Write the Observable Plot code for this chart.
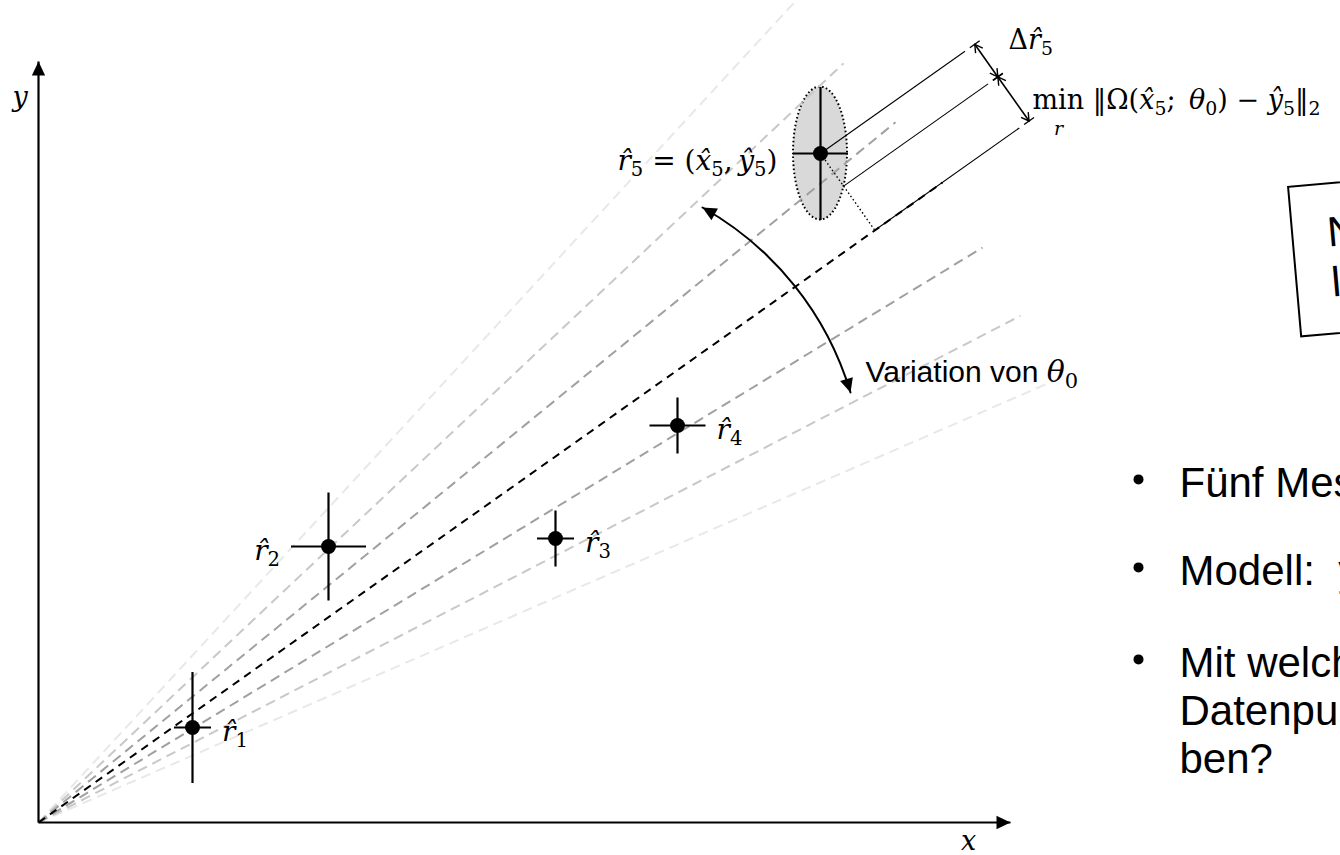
<!DOCTYPE html>
<html><head><meta charset="utf-8">
<script src="https://cdn.jsdelivr.net/npm/d3@7"></script>
<script src="https://cdn.jsdelivr.net/npm/@observablehq/plot@0.6"></script>
<style>
html,body{margin:0;padding:0;background:#fff;overflow:hidden;}
#wrap{position:relative;width:1340px;height:855px;overflow:hidden;background:#fff;}
#box{position:absolute;left:1287px;top:186px;width:330px;height:152px;border:2.5px solid #000;box-sizing:border-box;
 transform:rotate(-5deg);transform-origin:0 0;font:42px "Liberation Sans",Arial,sans-serif;line-height:50px;
 padding:23px 0 0 34px;white-space:nowrap;background:#fff;color:#000;}
</style></head><body><div id="wrap"></div>
<script>
// ---------------- data (1 unit = 100 px, origin of the axes = 0,0) ----------------
const pointNames = ["r\u03021", "r\u03022", "r\u03023", "r\u03024", "r\u03025"];
const pointX = [1.54, 2.90, 5.17, 6.39, 7.82];
const pointY = [0.95, 2.76, 2.84, 3.97, 6.69];
const errX = [0.185, 0.375, 0.185, 0.28, 0.275];
const errY = [0.555, 0.54, 0.28, 0.28, 0.665];
const pointLabels = ["$r\u0302_1$", "$r\u0302_2$", "$r\u0302_3$", "$r\u0302_4$"];
const labelSide = ["right", "left", "right", "right"];

// model lines y = m·x for several values of θ0
const fanSlopes = [1.085, 0.943, 0.817, 0.708, 0.609, 0.516, 0.435];
const fanEnds = [7.72, 8.05, 8.57, 9.04, 9.44, 9.82, 10.27];
const bestFit = 3;

// uncertainty ellipse of r̂5
const ellipseRx = [0.27];
const ellipseRy = [0.665];

// distances measured perpendicular to the best line: 0, Δr̂5, min distance
const dimOffsets = [0, 0.40, 0.94];

const axisEnds = [9.72, 7.61];
const axisNames = ["$x$", "$y$"];

const bulletItems = [
  "Fünf Messpunkte mit Messunsicherheit",
  "Modell:\u00a0\u00a0y\u0302 = Ω(x\u0302; θ₀)",
  "Mit welchem Parameter θ₀ lassen sich die\nDatenpunkte am besten beschrei-\nben?"
];
const boxLines = ["Nicht-", "lineares Problem"];

// ---------------- styles / layout ----------------
const SERIF = "'DejaVu Serif','Liberation Serif',serif";
const SANS = "'Liberation Sans',Arial,Helvetica,sans-serif";
const shades = ["#000000", "#a0a0a0", "#c8c8c8", "#e8e8e8"];
const rotOf = (dx, dy) => Math.atan2(-dy, dx) * 180 / Math.PI + 90; // isotropic scales

const solidHead = {draw(ctx, size) {
  const r = Math.sqrt(size / Math.PI);
  ctx.moveTo(0, 0); ctx.lineTo(-0.95 * r, 2 * r); ctx.lineTo(0.95 * r, 2 * r); ctx.closePath();
}};
const barHead = {draw(ctx, size) {
  const r = Math.sqrt(size / Math.PI);
  ctx.moveTo(-0.8 * r, 1.4 * r); ctx.lineTo(0, 0); ctx.lineTo(0.8 * r, 1.4 * r);
  ctx.moveTo(-1.1 * r, 0); ctx.lineTo(1.1 * r, 0);
}};

const idx = d3.range(pointX.length);
const fanIdx = d3.range(fanSlopes.length);
const P = {x: pointX[4], y: pointY[4]};
const ang = Math.atan(fanSlopes[bestFit]);
const u = {x: Math.cos(ang), y: Math.sin(ang)};
const n = {x: Math.sin(ang), y: -Math.cos(ang)};
const EXT = 1.77, TIP = 1.89;
const extLines = dimOffsets.map(d => ({x1: P.x + d * n.x, y1: P.y + d * n.y, x2: P.x + d * n.x + EXT * u.x, y2: P.y + d * n.y + EXT * u.y}));
const tips = dimOffsets.map(d => ({x: P.x + d * n.x + TIP * u.x, y: P.y + d * n.y + TIP * u.y}));
const shafts = [[tips[0], tips[1]], [tips[1], tips[2]]];
const heads = shafts.flatMap(([a, b]) => [{x: a.x, y: a.y, rot: rotOf(a.x - b.x, a.y - b.y)}, {x: b.x, y: b.y, rot: rotOf(b.x - a.x, b.y - a.y)}]);

const curve = {x1: 6.64, y1: 6.15, x2: 8.12, y2: 4.30};
const BEND = 22;
const chord = rotOf(curve.x2 - curve.x1, curve.y2 - curve.y1) - 90;
const curveHeads = [{x: curve.x1, y: curve.y1, rot: chord - BEND + 270}, {x: curve.x2, y: curve.y2, rot: chord + BEND + 90}];

const axes = [{x2: axisEnds[0], y2: 0, rot: 90}, {x2: 0, y2: axisEnds[1], rot: 0}];

const annotations = [
  {t: axisNames[0], x: 9.30, y: -0.19, anchor: "middle", fs: 27, font: SERIF},
  {t: axisNames[1], x: -0.26, y: 7.25, anchor: "start", fs: 27, font: SERIF},
  {t: "$r\u0302_5 = (x\u0302_5,\u2009y\u0302_5)$", x: 7.39, y: 6.61, anchor: "end", fs: 28, font: SERIF},
  {t: "$Δr\u0302_5$", x: 9.70, y: 7.82, anchor: "start", fs: 27, font: SERIF},
  {t: "min $‖Ω(x\u0302_5;\u2002θ_0) − y\u0302_5‖_2$", x: 9.94, y: 7.22, anchor: "start", fs: 27, font: SERIF},
  {t: "$r$", x: 10.20, y: 6.94, anchor: "middle", fs: 19, font: SERIF},
  {t: "Variation von $θ_0$", x: 8.27, y: 4.50, anchor: "start", fs: 30, font: SANS}
];
const bulletTop = [3.591, 2.711, 1.791];

// ---------------- plot ----------------
const marks = [
  (index, scales) => {
    const g = d3.create("svg:g");
    g.selectAll("ellipse").data(ellipseRx).join("ellipse")
      .attr("cx", scales.x(P.x)).attr("cy", scales.y(P.y))
      .attr("rx", (d) => Math.abs(scales.x(P.x + d) - scales.x(P.x)))
      .attr("ry", (d, i) => Math.abs(scales.y(P.y + ellipseRy[i]) - scales.y(P.y)))
      .attr("fill", "#d9d9d9").attr("stroke", "#000").attr("stroke-width", 2).attr("stroke-dasharray", "1.6,2.4");
    return g.node();
  },
  Plot.link(fanIdx.filter(i => i !== bestFit).sort((a, b) => Math.abs(b - bestFit) - Math.abs(a - bestFit)), {
    x1: 0, y1: 0, x2: i => fanEnds[i], y2: i => fanSlopes[i] * fanEnds[i],
    stroke: i => shades[Math.abs(i - bestFit)], strokeWidth: 2, strokeDasharray: "10,6"}),
  Plot.link([bestFit], {x1: 0, y1: 0, x2: i => fanEnds[i], y2: i => fanSlopes[i] * fanEnds[i],
    stroke: "black", strokeWidth: 2, strokeDasharray: "8,6"}),
  Plot.link(extLines, {x1: "x1", y1: "y1", x2: "x2", y2: "y2", stroke: "black", strokeWidth: 1.1}),
  Plot.link([dimOffsets[2]], {x1: P.x, y1: P.y, x2: d => P.x + d * n.x, y2: d => P.y + d * n.y,
    stroke: "black", strokeWidth: 1.4, strokeDasharray: "1.5,2.5"}),
  Plot.link(shafts, {x1: d => d[0].x, y1: d => d[0].y, x2: d => d[1].x, y2: d => d[1].y, stroke: "black", strokeWidth: 1.6}),
  Plot.dot(heads, {x: "x", y: "y", rotate: "rot", symbol: barHead, r: 5.5, fill: "none", stroke: "black", strokeWidth: 1.4}),
  Plot.arrow([curve], {x1: "x1", y1: "y1", x2: "x2", y2: "y2", bend: BEND, headLength: 0, stroke: "black", strokeWidth: 2}),
  Plot.dot(curveHeads, {x: "x", y: "y", rotate: "rot", symbol: solidHead, r: 7, fill: "black"}),
  Plot.link(idx, {x1: i => pointX[i], x2: i => pointX[i], y1: i => pointY[i] - errY[i], y2: i => pointY[i] + errY[i], stroke: "black", strokeWidth: 2.2}),
  Plot.link(idx, {x1: i => pointX[i] - errX[i], x2: i => pointX[i] + errX[i], y1: i => pointY[i], y2: i => pointY[i], stroke: "black", strokeWidth: 2.2}),
  Plot.dot(idx, {x: i => pointX[i], y: i => pointY[i], r: 7.5, fill: "black", title: i => pointNames[i]}),
  Plot.link(axes, {x1: 0, y1: 0, x2: "x2", y2: "y2", stroke: "black", strokeWidth: 2.2}),
  Plot.dot(axes, {x: "x2", y: "y2", rotate: "rot", symbol: solidHead, r: 7, fill: "black"}),
  ...["right", "left"].map(side => Plot.text(d3.range(pointLabels.length).filter(i => labelSide[i] === side), {
    x: i => pointX[i] + (side === "left" ? -1 : 1) * (errX[i] + 0.11), y: i => pointY[i] - 0.05,
    text: i => pointLabels[i], textAnchor: side === "left" ? "end" : "start", fontSize: 28, fontFamily: SERIF, fill: "black"})),
  ...annotations.map(a => Plot.text([a], {x: "x", y: "y", text: "t", textAnchor: a.anchor, fontSize: a.fs, fontFamily: a.font, fill: "black"})),
  Plot.dot(bulletItems, {x: 11.00, y: (d, i) => bulletTop[i] - 0.16, r: 5, fill: "black"}),
  Plot.text(bulletItems, {x: 11.41, y: (d, i) => bulletTop[i], text: d => d, textAnchor: "start", lineAnchor: "top",
    lineHeight: 48 / 42, fontSize: 42, fontFamily: SANS, fill: "black"})
];

const svg = Plot.plot({
  width: 1340, height: 855, margin: 0,
  x: {domain: [-0.38, 13.02], axis: null},
  y: {domain: [-0.33, 8.22], axis: null},
  color: {type: "identity"},
  style: {background: "white"},
  marks
});
const wrap = document.getElementById("wrap");
wrap.appendChild(svg);

// math formatting: $…$ = math mode, letters italic serif, _c = subscript
function mathify(el) {
  const raw = el.textContent;
  if (!raw.includes("$")) return;
  const fs = parseFloat(getComputedStyle(el).fontSize);
  const chars = Array.from(raw), segs = [];
  let math = false;
  for (let i = 0; i < chars.length; i++) {
    let c = chars[i];
    if (c === "$") { math = !math; continue; }
    let sub = false;
    if (math && c === "_") { sub = true; c = chars[++i]; }
    while (i + 1 < chars.length && /[\u0300-\u036f]/.test(chars[i + 1])) c += chars[++i];
    const italic = math && /[a-zα-ω]/.test(c[0]);
    const last = segs[segs.length - 1];
    if (last && last.math === math && last.italic === italic && last.sub === sub) last.text += c;
    else segs.push({text: c, math, italic, sub});
  }
  el.textContent = "";
  let shifted = false;
  for (const s of segs) {
    const t = document.createElementNS("http://www.w3.org/2000/svg", "tspan");
    t.textContent = s.text;
    if (s.math) t.setAttribute("font-family", SERIF);
    t.setAttribute("font-style", s.italic ? "italic" : "normal");
    if (s.sub) {
      t.setAttribute("font-size", 0.7 * fs);
      if (!shifted) { t.setAttribute("dy", 0.2 * fs); shifted = true; }
    } else if (shifted) { t.setAttribute("dy", -0.2 * fs); shifted = false; }
    el.appendChild(t);
  }
}
svg.querySelectorAll("text").forEach(mathify);

// boxed remark (rotated) on the slide
const box = document.createElement("div");
box.id = "box";
box.innerHTML = boxLines.join("<br>");
wrap.appendChild(box);
</script>
</body></html>
